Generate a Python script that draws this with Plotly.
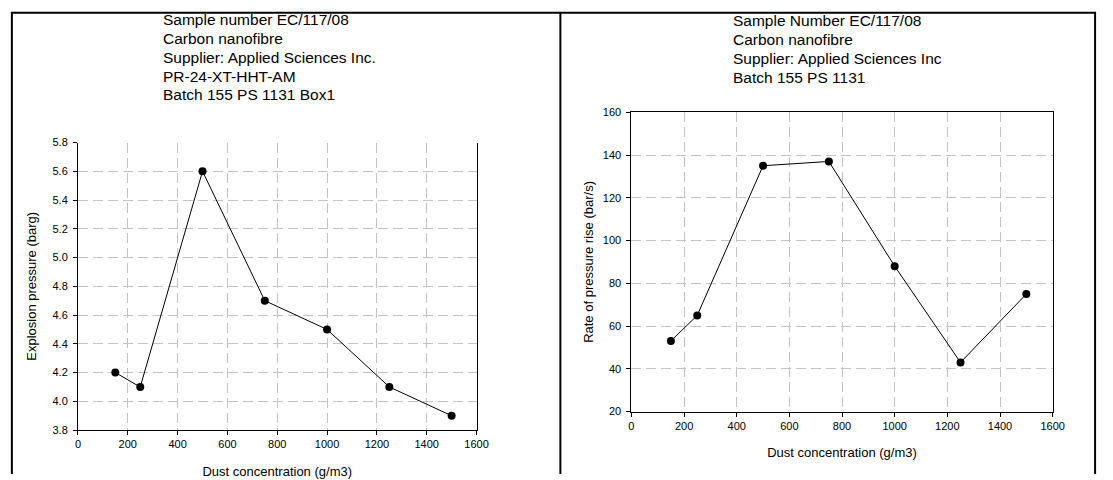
import plotly.graph_objects as go

W, H = 1113, 480

# Data
conc = [150, 250, 500, 750, 1000, 1250, 1500]
pressure = [4.2, 4.1, 5.6, 4.7, 4.5, 4.1, 3.9]
rate = [53, 65, 135, 137, 88, 43, 75]

left_title = ["Sample number EC/117/08", "Carbon nanofibre",
              "Supplier: Applied Sciences Inc.", "PR-24-XT-HHT-AM",
              "Batch 155 PS 1131 Box1"]
right_title = ["Sample Number EC/117/08", "Carbon nanofibre",
               "Supplier: Applied Sciences Inc", "Batch 155 PS 1131"]
x_label = "Dust concentration (g/m3)"
y1_label = "Explosion pressure (barg)"
y2_label = "Rate of pressure rise (bar/s)"

FONT = "Liberation Sans, Arial, sans-serif"


def px(x):
    return x / W


def py(y):
    return 1 - y / H


fig = go.Figure()
for xa, ya, vals in [("x", "y", pressure), ("x2", "y2", rate)]:
    fig.add_trace(go.Scatter(
        x=conc, y=vals, xaxis=xa, yaxis=ya, mode="lines+markers",
        line=dict(color="black", width=1),
        marker=dict(color="black", size=8),
        showlegend=False, cliponaxis=False))

grid = dict(showgrid=True, gridcolor="#c4c4c4", gridwidth=1, griddash="10px,5px",
            zeroline=False, showline=True, linecolor="black", linewidth=1,
            ticks="outside", ticklen=4, tickcolor="black",
            tickfont=dict(family=FONT, size=11, color="black"))

fig.update_layout(
    width=W, height=H, margin=dict(l=0, r=0, t=0, b=0),
    paper_bgcolor="white", plot_bgcolor="white",
    font=dict(family=FONT, color="black"),
    xaxis=dict(domain=[px(76), px(480)], range=[0, 1600], dtick=200,
               anchor="y", mirror=False,
               title=dict(text=x_label, font=dict(size=13), standoff=17), **grid),
    yaxis=dict(domain=[py(435), py(140)], range=[3.8, 5.8], dtick=0.2,
               tickformat=".1f", anchor="x", mirror=True, ticklabelstandoff=3,
               title=dict(text=y1_label, font=dict(size=13), standoff=12), **grid),
    xaxis2=dict(domain=[px(637), px(1064)], range=[0, 1600], dtick=200,
                anchor="y2", mirror=True,
                title=dict(text=x_label, font=dict(size=13), standoff=17), **grid),
    yaxis2=dict(domain=[py(416), py(109)], range=[20, 160], dtick=20,
                anchor="x2", mirror=True, ticklabelstandoff=3,
                title=dict(text=y2_label, font=dict(size=13), standoff=6), **grid),
)

ann = []
for i, t in enumerate(left_title):
    ann.append(dict(text=t, x=px(160), y=py(14 + i * 19.3), xref="paper", yref="paper",
                    xanchor="left", yanchor="middle", showarrow=False,
                    font=dict(family=FONT, size=15.5, color="black")))
for i, t in enumerate(right_title):
    ann.append(dict(text=t, x=px(738), y=py(15 + i * 19.3), xref="paper", yref="paper",
                    xanchor="left", yanchor="middle", showarrow=False,
                    font=dict(family=FONT, size=15.5, color="black")))
fig.update_layout(annotations=ann)

shapes = [
    dict(type="line", xref="paper", yref="paper", x0=px(8), x1=px(1108), y0=py(7), y1=py(7),
         line=dict(color="black", width=2)),
    dict(type="line", xref="paper", yref="paper", x0=px(9), x1=px(9), y0=py(7), y1=py(480),
         line=dict(color="black", width=2)),
    dict(type="line", xref="paper", yref="paper", x0=px(565), x1=px(565), y0=py(7), y1=py(480),
         line=dict(color="black", width=2)),
    dict(type="line", xref="paper", yref="paper", x0=px(1107), x1=px(1107), y0=py(7), y1=py(480),
         line=dict(color="black", width=2)),
]
fig.update_layout(shapes=shapes)

fig.write_html("out.html")
